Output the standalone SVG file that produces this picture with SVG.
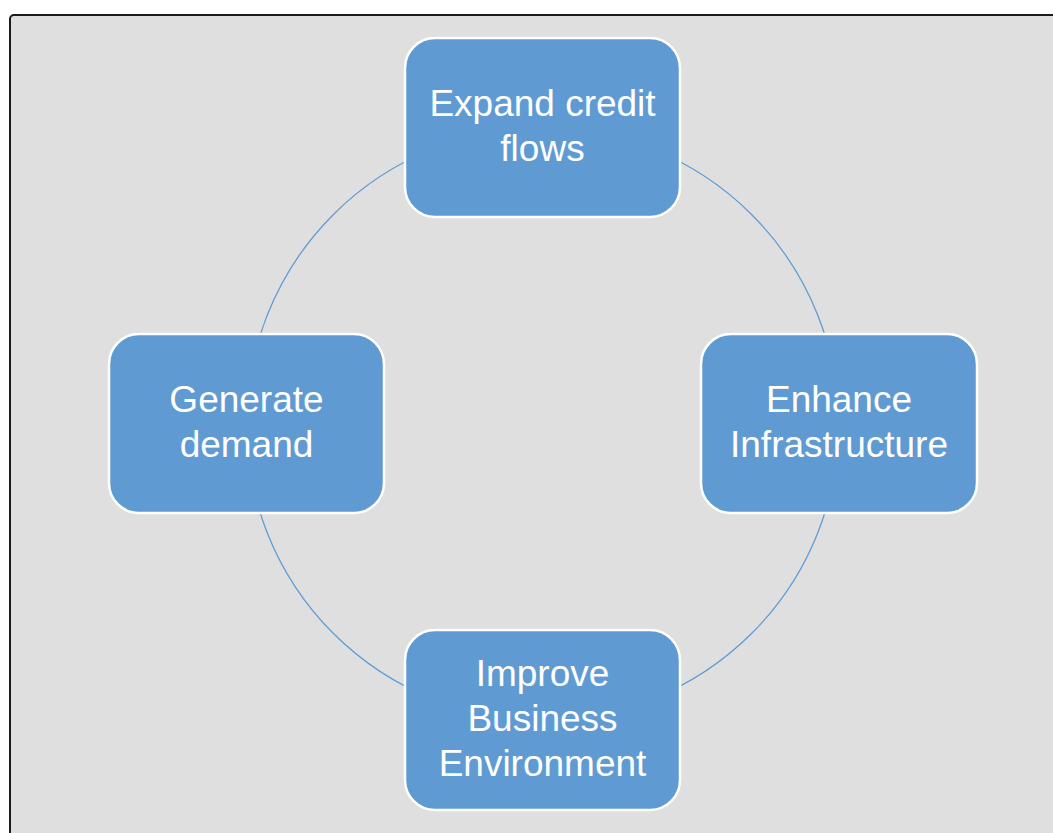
<svg xmlns="http://www.w3.org/2000/svg" width="1053" height="833" viewBox="0 0 1053 833">
<style>
.bg{fill:#dfdfdf;stroke:#1a1a1a;stroke-width:2}
.node rect{fill:#5f9bd2;stroke:#ffffff;stroke-width:2.5}
.node text{fill:#ffffff;font-family:"Liberation Sans","Open Sans",sans-serif;font-size:37px;text-anchor:middle}
.conn{fill:none;stroke:#5b9bd5;stroke-width:1.25}
</style>
<rect width="1053" height="833" fill="#ffffff"/>
<rect class="bg" x="10" y="15" width="1060" height="840" rx="4"/>
<g id="connectors">
<circle class="conn" cx="542.5" cy="424" r="296"/>
</g>
<g id="node-top" class="node">
<rect x="405" y="38" width="275" height="179" rx="30"/>
<text x="542.5" y="116">Expand credit</text>
<text x="542.5" y="161">flows</text>
</g>
<g id="node-right" class="node">
<rect x="701" y="334" width="276" height="179" rx="30"/>
<text x="839" y="412">Enhance</text>
<text x="839" y="457">Infrastructure</text>
</g>
<g id="node-bottom" class="node">
<rect x="405" y="630" width="275" height="180" rx="30"/>
<text x="542.5" y="686">Improve</text>
<text x="542.5" y="731">Business</text>
<text x="542.5" y="776">Environment</text>
</g>
<g id="node-left" class="node">
<rect x="109" y="334" width="275" height="179" rx="30"/>
<text x="246.5" y="412">Generate</text>
<text x="246.5" y="457">demand</text>
</g>
</svg>
